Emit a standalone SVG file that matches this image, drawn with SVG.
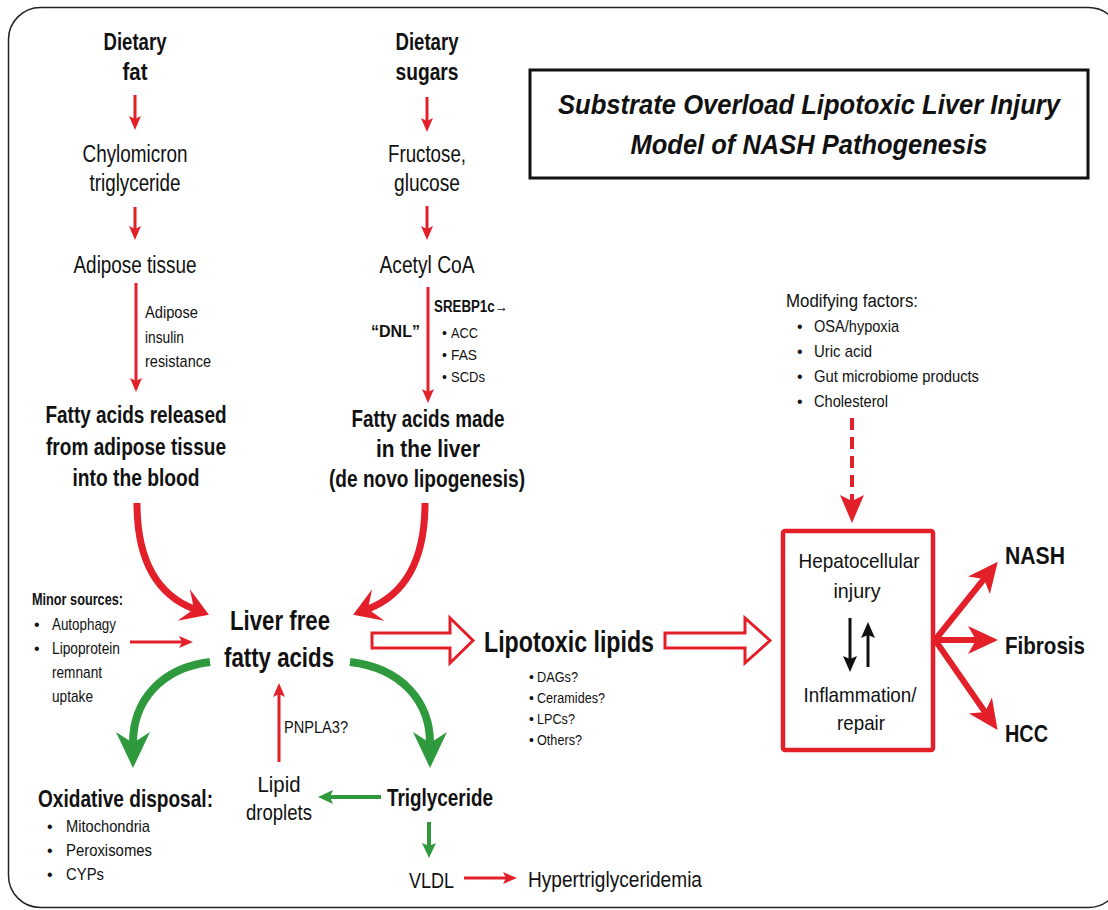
<svg xmlns="http://www.w3.org/2000/svg" width="1108" height="910" viewBox="0 0 1108 910">
<style>
.t{font-family:"Liberation Sans",Arial,Helvetica,sans-serif;fill:#111}
.b{font-weight:bold}
.c{text-anchor:middle}
.e{text-anchor:end}
.ti{font-weight:bold;font-style:italic}
.red{stroke:#e3202a;fill:none}
.grn{stroke:#2f9a3d;fill:none}
</style>
<defs>
<marker id="mRedS" markerUnits="userSpaceOnUse" markerWidth="16" markerHeight="14" refX="3" refY="0" orient="auto" overflow="visible"><path d="M0,-6 L14,0 L0,6 L3,0 Z" fill="#e3202a"/></marker>
<marker id="mRedBig" markerUnits="userSpaceOnUse" markerWidth="36" markerHeight="36" refX="10" refY="0" orient="auto" overflow="visible"><path d="M-1,-17 L26,0 L-1,17 L10,0 Z" fill="#e3202a"/></marker>
<marker id="mGrnBig" markerUnits="userSpaceOnUse" markerWidth="42" markerHeight="40" refX="11" refY="0" orient="auto" overflow="visible"><path d="M0,-17 L36,0 L0,17 L11,0 Z" fill="#2f9a3d"/></marker>
<marker id="mGrnS" markerUnits="userSpaceOnUse" markerWidth="16" markerHeight="16" refX="3" refY="0" orient="auto" overflow="visible"><path d="M0,-7 L15,0 L0,7 L3,0 Z" fill="#2f9a3d"/></marker>
<marker id="mRedOut" markerUnits="userSpaceOnUse" markerWidth="32" markerHeight="30" refX="8" refY="0" orient="auto" overflow="visible"><path d="M0,-14 L30,0 L0,14 L8,0 Z" fill="#e3202a"/></marker>
<marker id="mRedDash" markerUnits="userSpaceOnUse" markerWidth="30" markerHeight="26" refX="6" refY="0" orient="auto" overflow="visible"><path d="M0,-12 L28,0 L0,12 L6,0 Z" fill="#e3202a"/></marker>
<marker id="mBlk" markerUnits="userSpaceOnUse" markerWidth="18" markerHeight="16" refX="3" refY="0" orient="auto" overflow="visible"><path d="M0,-7 L16,0 L0,7 L3,0 Z" fill="#111"/></marker>
</defs>
<rect width="1108" height="910" fill="#fff"/>
<rect id="frame" x="8.5" y="7.5" width="1112" height="900" rx="32" fill="none" stroke="#222" stroke-width="1.5"/>

<g id="connectors">
<line class="red" x1="135" y1="95" x2="135" y2="119" stroke-width="3" marker-end="url(#mRedS)"/>
<line class="red" x1="135" y1="207" x2="135" y2="229" stroke-width="3" marker-end="url(#mRedS)"/>
<line class="red" x1="136" y1="283" x2="136" y2="381" stroke-width="3" marker-end="url(#mRedS)"/>
<line class="red" x1="427" y1="97" x2="427" y2="121" stroke-width="3" marker-end="url(#mRedS)"/>
<line class="red" x1="427" y1="206" x2="427" y2="229" stroke-width="3" marker-end="url(#mRedS)"/>
<line class="red" x1="428" y1="287" x2="428" y2="392" stroke-width="3" marker-end="url(#mRedS)"/>
<path class="red" d="M137,503 C137,562 158,595 194,609" stroke-width="7" marker-end="url(#mRedBig)"/>
<path class="red" d="M425,503 C425,562 404,595 368,609" stroke-width="7" marker-end="url(#mRedBig)"/>
<line class="red" x1="130" y1="642" x2="182" y2="642" stroke-width="3" marker-end="url(#mRedS)"/>
<path class="grn" d="M210,662 C160,668 133,702 133,743" stroke-width="8" marker-end="url(#mGrnBig)"/>
<path class="grn" d="M350,662 C402,668 430,702 430,743" stroke-width="8" marker-end="url(#mGrnBig)"/>
<line class="red" x1="279" y1="762" x2="279" y2="694" stroke-width="3" marker-end="url(#mRedS)"/>
<line class="grn" x1="381" y1="797" x2="330" y2="797" stroke-width="4" marker-end="url(#mGrnS)"/>
<line class="grn" x1="429" y1="822" x2="429" y2="846" stroke-width="4" marker-end="url(#mGrnS)"/>
<line class="red" x1="464" y1="878" x2="506" y2="878" stroke-width="3" marker-end="url(#mRedS)"/>
<polygon points="372,633 450,633 450,618 473,640.5 450,663 450,648 372,648" fill="#fff" stroke="#e3202a" stroke-width="3" stroke-linejoin="miter"/>
<polygon points="665,633 745,633 745,618 770,640.5 745,663 745,648 665,648" fill="#fff" stroke="#e3202a" stroke-width="3" stroke-linejoin="miter"/>
<line class="red" x1="852" y1="418" x2="852" y2="501" stroke-width="4" stroke-dasharray="12 7" marker-end="url(#mRedDash)"/>
<line class="red" x1="935" y1="640" x2="984" y2="579" stroke-width="6" marker-end="url(#mRedOut)"/>
<line class="red" x1="935" y1="640" x2="976" y2="640" stroke-width="6" marker-end="url(#mRedOut)"/>
<line class="red" x1="935" y1="640" x2="985" y2="712" stroke-width="6" marker-end="url(#mRedOut)"/>
<line x1="850" y1="618" x2="850" y2="659" stroke="#111" stroke-width="3" marker-end="url(#mBlk)"/>
<line x1="868" y1="667" x2="868" y2="635" stroke="#111" stroke-width="3" marker-end="url(#mBlk)"/>
</g>

<g id="title">
<rect x="530" y="70" width="558" height="108" fill="#fff" stroke="#111" stroke-width="3"/>
<text class="t ti c" x="809" y="114" font-size="28" textLength="502" lengthAdjust="spacingAndGlyphs">Substrate Overload Lipotoxic Liver Injury</text>
<text class="t ti c" x="809" y="154" font-size="28" textLength="357" lengthAdjust="spacingAndGlyphs">Model of NASH Pathogenesis</text>
</g>

<g id="dietary-fat">
<text class="t b c" x="135" y="50" font-size="23" textLength="63" lengthAdjust="spacingAndGlyphs">Dietary</text>
<text class="t b c" x="135" y="80" font-size="23" textLength="25" lengthAdjust="spacingAndGlyphs">fat</text>
</g>
<g id="chylomicron">
<text class="t c" x="135" y="162" font-size="23" textLength="105" lengthAdjust="spacingAndGlyphs">Chylomicron</text>
<text class="t c" x="135" y="191" font-size="23" textLength="91" lengthAdjust="spacingAndGlyphs">triglyceride</text>
</g>
<g id="adipose-tissue">
<text class="t c" x="135" y="273" font-size="23" textLength="123" lengthAdjust="spacingAndGlyphs">Adipose tissue</text>
</g>
<g id="adipose-ir-label">
<text class="t" x="145" y="318" font-size="17" textLength="53" lengthAdjust="spacingAndGlyphs">Adipose</text>
<text class="t" x="145" y="343" font-size="17" textLength="39" lengthAdjust="spacingAndGlyphs">insulin</text>
<text class="t" x="145" y="367" font-size="17" textLength="66" lengthAdjust="spacingAndGlyphs">resistance</text>
</g>
<g id="fa-released">
<text class="t b c" x="136" y="423" font-size="23" textLength="181" lengthAdjust="spacingAndGlyphs">Fatty acids released</text>
<text class="t b c" x="136" y="455" font-size="23" textLength="180" lengthAdjust="spacingAndGlyphs">from adipose tissue</text>
<text class="t b c" x="136" y="486" font-size="23" textLength="127" lengthAdjust="spacingAndGlyphs">into the blood</text>
</g>

<g id="dietary-sugars">
<text class="t b c" x="427" y="50" font-size="23" textLength="63" lengthAdjust="spacingAndGlyphs">Dietary</text>
<text class="t b c" x="427" y="80" font-size="23" textLength="63" lengthAdjust="spacingAndGlyphs">sugars</text>
</g>
<g id="fructose">
<text class="t c" x="427" y="162" font-size="23" textLength="78" lengthAdjust="spacingAndGlyphs">Fructose,</text>
<text class="t c" x="427" y="191" font-size="23" textLength="66" lengthAdjust="spacingAndGlyphs">glucose</text>
</g>
<g id="acetyl-coa">
<text class="t c" x="427" y="273" font-size="23" textLength="95" lengthAdjust="spacingAndGlyphs">Acetyl CoA</text>
</g>
<g id="dnl-label">
<text class="t b" x="434" y="312" font-size="16" textLength="74" lengthAdjust="spacingAndGlyphs">SREBP1c→</text>
<text class="t b e" x="420" y="337" font-size="17" textLength="49" lengthAdjust="spacingAndGlyphs">“DNL”</text>
<text class="t" x="442" y="338" font-size="14">•</text>
<text class="t" x="451" y="338" font-size="14" textLength="27" lengthAdjust="spacingAndGlyphs">ACC</text>
<text class="t" x="442" y="360" font-size="14">•</text>
<text class="t" x="451" y="360" font-size="14" textLength="26" lengthAdjust="spacingAndGlyphs">FAS</text>
<text class="t" x="442" y="382" font-size="14">•</text>
<text class="t" x="451" y="382" font-size="14" textLength="34" lengthAdjust="spacingAndGlyphs">SCDs</text>
</g>
<g id="fa-made">
<text class="t b c" x="428" y="427" font-size="23" textLength="153" lengthAdjust="spacingAndGlyphs">Fatty acids made</text>
<text class="t b c" x="428" y="457" font-size="23" textLength="104" lengthAdjust="spacingAndGlyphs">in the liver</text>
<text class="t b c" x="427" y="487" font-size="23" textLength="196" lengthAdjust="spacingAndGlyphs">(de novo lipogenesis)</text>
</g>

<g id="minor-sources">
<text class="t b" x="32" y="605" font-size="16" textLength="91" lengthAdjust="spacingAndGlyphs">Minor sources:</text>
<text class="t" x="34" y="630" font-size="16">•</text>
<text class="t" x="52" y="630" font-size="17" textLength="64" lengthAdjust="spacingAndGlyphs">Autophagy</text>
<text class="t" x="34" y="654" font-size="16">•</text>
<text class="t" x="52" y="654" font-size="17" textLength="68" lengthAdjust="spacingAndGlyphs">Lipoprotein</text>
<text class="t" x="52" y="678" font-size="17" textLength="50" lengthAdjust="spacingAndGlyphs">remnant</text>
<text class="t" x="52" y="702" font-size="17" textLength="41" lengthAdjust="spacingAndGlyphs">uptake</text>
</g>
<g id="liver-ffa">
<text class="t b c" x="280" y="630" font-size="28" textLength="100" lengthAdjust="spacingAndGlyphs">Liver free</text>
<text class="t b c" x="279" y="667" font-size="28" textLength="110" lengthAdjust="spacingAndGlyphs">fatty acids</text>
</g>
<g id="lipotoxic-lipids">
<text class="t b" x="484" y="652" font-size="30" textLength="170" lengthAdjust="spacingAndGlyphs">Lipotoxic lipids</text>
<text class="t" x="529" y="682" font-size="14">•</text>
<text class="t" x="537" y="682" font-size="14" textLength="41" lengthAdjust="spacingAndGlyphs">DAGs?</text>
<text class="t" x="529" y="703" font-size="14">•</text>
<text class="t" x="537" y="703" font-size="14" textLength="68" lengthAdjust="spacingAndGlyphs">Ceramides?</text>
<text class="t" x="529" y="724" font-size="14">•</text>
<text class="t" x="537" y="724" font-size="14" textLength="38" lengthAdjust="spacingAndGlyphs">LPCs?</text>
<text class="t" x="529" y="745" font-size="14">•</text>
<text class="t" x="537" y="745" font-size="14" textLength="45" lengthAdjust="spacingAndGlyphs">Others?</text>
</g>

<g id="modifying-factors">
<text class="t" x="786" y="307" font-size="18" textLength="132" lengthAdjust="spacingAndGlyphs">Modifying factors:</text>
<text class="t" x="797" y="332" font-size="16">•</text>
<text class="t" x="814" y="332" font-size="17" textLength="85" lengthAdjust="spacingAndGlyphs">OSA/hypoxia</text>
<text class="t" x="797" y="357" font-size="16">•</text>
<text class="t" x="814" y="357" font-size="17" textLength="58" lengthAdjust="spacingAndGlyphs">Uric acid</text>
<text class="t" x="797" y="382" font-size="16">•</text>
<text class="t" x="814" y="382" font-size="17" textLength="165" lengthAdjust="spacingAndGlyphs">Gut microbiome products</text>
<text class="t" x="797" y="407" font-size="16">•</text>
<text class="t" x="814" y="407" font-size="17" textLength="74" lengthAdjust="spacingAndGlyphs">Cholesterol</text>
</g>

<g id="injury-box">
<rect x="783" y="531" width="150" height="219" rx="2" fill="none" stroke="#e3202a" stroke-width="4.5"/>
<text class="t c" x="859" y="568" font-size="21" textLength="121" lengthAdjust="spacingAndGlyphs">Hepatocellular</text>
<text class="t c" x="857" y="598" font-size="21" textLength="47" lengthAdjust="spacingAndGlyphs">injury</text>
<text class="t c" x="860" y="702" font-size="21" textLength="113" lengthAdjust="spacingAndGlyphs">Inflammation/</text>
<text class="t c" x="861" y="730" font-size="21" textLength="48" lengthAdjust="spacingAndGlyphs">repair</text>
</g>

<g id="nash"><text class="t b" x="1005" y="564" font-size="24" textLength="60" lengthAdjust="spacingAndGlyphs">NASH</text></g>
<g id="fibrosis"><text class="t b" x="1005" y="654" font-size="24" textLength="80" lengthAdjust="spacingAndGlyphs">Fibrosis</text></g>
<g id="hcc"><text class="t b" x="1005" y="742" font-size="24" textLength="43" lengthAdjust="spacingAndGlyphs">HCC</text></g>

<g id="oxidative-disposal">
<text class="t b" x="38" y="807" font-size="24" textLength="175" lengthAdjust="spacingAndGlyphs">Oxidative disposal:</text>
<text class="t" x="47" y="832" font-size="16">•</text>
<text class="t" x="66" y="832" font-size="17" textLength="84" lengthAdjust="spacingAndGlyphs">Mitochondria</text>
<text class="t" x="47" y="856" font-size="16">•</text>
<text class="t" x="66" y="856" font-size="17" textLength="86" lengthAdjust="spacingAndGlyphs">Peroxisomes</text>
<text class="t" x="47" y="880" font-size="16">•</text>
<text class="t" x="66" y="880" font-size="17" textLength="38" lengthAdjust="spacingAndGlyphs">CYPs</text>
</g>
<g id="pnpla3-label">
<text class="t" x="284" y="733" font-size="17" textLength="64" lengthAdjust="spacingAndGlyphs">PNPLA3?</text>
</g>
<g id="lipid-droplets">
<text class="t c" x="279" y="792" font-size="22" textLength="43" lengthAdjust="spacingAndGlyphs">Lipid</text>
<text class="t c" x="279" y="820" font-size="22" textLength="66" lengthAdjust="spacingAndGlyphs">droplets</text>
</g>
<g id="triglyceride">
<text class="t b" x="387" y="806" font-size="23" textLength="106" lengthAdjust="spacingAndGlyphs">Triglyceride</text>
</g>
<g id="vldl">
<text class="t" x="409" y="888" font-size="22" textLength="45" lengthAdjust="spacingAndGlyphs">VLDL</text>
</g>
<g id="hypertriglyceridemia">
<text class="t" x="528" y="887" font-size="22" textLength="174" lengthAdjust="spacingAndGlyphs">Hypertriglyceridemia</text>
</g>
</svg>
